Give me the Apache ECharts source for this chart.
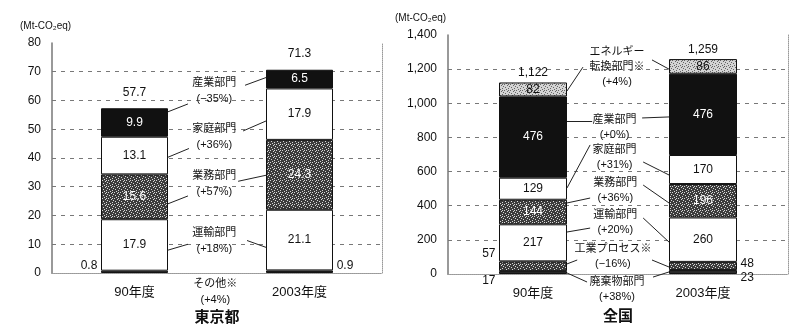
<!DOCTYPE html>
<html>
<head>
<meta charset="utf-8">
</head>
<body style="margin:0;background:#fff">
<div id="container" style="width:791px;height:330px"></div>
<script src="https://cdn.jsdelivr.net/npm/echarts@6/dist/echarts.min.js"></script>
<script>
// 東京都 (Mt-CO2eq)
var tokyoYears = ['90年度', '2003年度'];
var tokyoOther = [0.8, 0.9];
var tokyoTransport = [17.9, 21.1];
var tokyoBusiness = [15.6, 24.3];
var tokyoHome = [13.1, 17.9];
var tokyoIndustry = [9.9, 6.5];
var tokyoTotal = [57.7, 71.3];
var tokyoNotes = ['産業部門\n(−35%)', '家庭部門\n(+36%)', '業務部門\n(+57%)', '運輸部門\n(+18%)', 'その他※\n(+4%)'];

// 全国 (Mt-CO2eq)
var japanYears = ['90年度', '2003年度'];
var japanWaste = [17, 23];
var japanProcess = [57, 48];
var japanTransport = [217, 260];
var japanBusiness = [144, 196];
var japanHome = [129, 170];
var japanIndustry = [476, 476];
var japanEnergy = [82, 86];
var japanTotal = [1122, 1259];
var japanNotes = ['エネルギー\n転換部門※\n(+4%)', '産業部門\n(+0%)', '家庭部門\n(+31%)', '業務部門\n(+36%)', '運輸部門\n(+20%)', '工業プロセス※\n(−16%)', '廃棄物部門\n(+38%)'];

// annotation layout, on a hidden 0-10 axis (bars sit at 2.5 and 7.5)
var tokyoNotePos = [[4.92, 63.3], [4.92, 47.4], [4.92, 31.1], [4.92, 11.2], [4.95, -6.7]];
var japanNotePos = [[4.97, 1213], [4.9, 858], [4.9, 682], [4.92, 492], [4.92, 302], [4.85, 103], [4.97, -91]];
var tokyoLeaders = [
    [[3.5, 56.0], [4.12, 58.8]], [[5.85, 65.3], [6.49, 68.0]],
    [[3.5, 40.2], [4.15, 43.3]], [[5.79, 49.4], [6.49, 52.9]],
    [[3.5, 24.0], [4.12, 26.8]], [[5.64, 31.9], [6.49, 34.0]],
    [[3.5, 7.9], [4.12, 10.0]], [[5.91, 11.3], [6.49, 8.9]]
];
var japanLeaders = [
    [[3.5, 1072], [3.97, 1212]], [[6.0, 1254], [6.5, 1200]],
    [[3.5, 896], [4.24, 896]], [[5.71, 914], [6.5, 920]],
    [[3.5, 504], [4.18, 756]], [[5.74, 656], [6.5, 580]],
    [[3.5, 416], [4.18, 445]], [[5.74, 521], [6.5, 416]],
    [[3.5, 246], [4.18, 269]], [[5.74, 328], [6.5, 187]],
    [[3.5, 59], [3.8, 82]], [[6.0, 82], [6.5, 41]],
    [[3.5, 6], [4.09, -47]], [[6.03, -18], [6.5, 12]]
];

var FONT = '"Liberation Sans", "Noto Sans CJK JP", sans-serif';
var INK = '#111';

function stipple(bg, dot) {
    var c = document.createElement('canvas');
    c.width = 6; c.height = 6;
    var ctx = c.getContext('2d');
    ctx.fillStyle = bg;
    ctx.fillRect(0, 0, 6, 6);
    ctx.fillStyle = dot;
    [[0, 0], [3, 1], [1, 3], [4, 4], [2, 5], [5, 2], [4, 0]].forEach(function (p) {
        ctx.fillRect(p[0], p[1], 1, 1);
    });
    return {image: c, repeat: 'repeat'};
}
var darkDots = stipple('#3c3c3c', '#d8d8d8');
var lightDots = stipple('#d4d4d4', '#666');

function bars(name, grid, values, fill, labelColor, showLabel, width) {
    return {
        name: name, type: 'bar', stack: 'g' + grid,
        xAxisIndex: grid, yAxisIndex: grid * 2,
        barWidth: width, silent: true,
        data: values,
        itemStyle: {color: fill, borderColor: '#111', borderWidth: 1},
        label: {
            show: showLabel, position: 'inside', color: labelColor,
            fontSize: 12, fontFamily: FONT
        }
    };
}

// free text placed in data coordinates of the hidden value axis
function texts(grid, points, labels, label) {
    return {
        type: 'scatter', xAxisIndex: grid + 2, yAxisIndex: grid * 2,
        symbolSize: 1, clip: false, silent: true, z: 5,
        itemStyle: {color: 'rgba(0,0,0,0)', opacity: 1},
        data: points,
        label: Object.assign({
            show: true, color: INK, fontFamily: FONT, fontSize: 12,
            formatter: function (p) { return labels[p.dataIndex]; }
        }, label)
    };
}

function leaders(grid, segs) {
    return {
        type: 'lines', coordinateSystem: 'cartesian2d',
        xAxisIndex: grid + 2, yAxisIndex: grid * 2, clip: false, silent: true, z: 4,
        lineStyle: {color: '#222', width: 1, opacity: 1},
        data: segs.map(function (s) { return {coords: s}; })
    };
}

function xBottom(grid, years, name, gap) {
    return {
        type: 'category', gridIndex: grid, data: years, position: 'bottom',
        axisLine: {show: true, onZero: false, lineStyle: {color: '#888', type: 'dotted'}},
        axisTick: {show: false},
        splitLine: {show: false},
        axisLabel: {margin: 13, color: INK, fontSize: 13, fontFamily: FONT},
        name: name, nameLocation: 'middle', nameGap: gap,
        nameTextStyle: {fontSize: 15, fontWeight: 'bold', color: INK, fontFamily: FONT}
    };
}

function xTop(grid) {
    return {
        type: 'value', gridIndex: grid, min: 0, max: 10, position: 'top',
        axisLine: {show: true, lineStyle: {color: '#999', type: 'dotted'}},
        axisTick: {show: false}, axisLabel: {show: false}, splitLine: {show: false}
    };
}

function yLeft(grid, max, interval) {
    return {
        type: 'value', gridIndex: grid, min: 0, max: max, interval: interval, position: 'left',
        axisLine: {show: true, lineStyle: {color: '#777', width: 1.5}},
        axisTick: {show: false},
        axisLabel: {margin: 11, color: INK, fontSize: 12, fontFamily: FONT},
        splitLine: {show: true, showMinLine: false, showMaxLine: false,
            lineStyle: {color: '#555', type: [4, 5], width: 0.8}}
    };
}

function yRight(grid, max) {
    return {
        type: 'value', gridIndex: grid, min: 0, max: max, position: 'right',
        axisLine: {show: true, lineStyle: {color: '#999', type: 'dotted'}},
        axisTick: {show: false}, axisLabel: {show: false}, splitLine: {show: false}
    };
}

var series = [
    bars('その他', 0, tokyoOther, '#222', '#fff', false, 67),
    bars('運輸部門', 0, tokyoTransport, '#fff', INK, true, 67),
    bars('業務部門', 0, tokyoBusiness, darkDots, '#fff', true, 67),
    bars('家庭部門', 0, tokyoHome, '#fff', INK, true, 67),
    bars('産業部門', 0, tokyoIndustry, '#111', '#fff', true, 67),

    bars('廃棄物部門', 1, japanWaste, '#2a2a2a', '#fff', false, 68),
    bars('工業プロセス', 1, japanProcess, darkDots, '#fff', false, 68),
    bars('運輸部門', 1, japanTransport, '#fff', INK, true, 68),
    bars('業務部門', 1, japanBusiness, darkDots, '#fff', true, 68),
    bars('家庭部門', 1, japanHome, '#fff', INK, true, 68),
    bars('産業部門', 1, japanIndustry, '#111', '#fff', true, 68),
    bars('エネルギー転換部門', 1, japanEnergy, lightDots, INK, true, 68),

    // totals above the bars
    texts(0, [[2.5, tokyoTotal[0]], [7.5, tokyoTotal[1]]], tokyoTotal,
        {position: 'top', distance: 8}),
    texts(1, [[2.5, japanTotal[0]], [7.5, japanTotal[1]]],
        japanTotal.map(function (v) { return v.toLocaleString('en-US'); }),
        {position: 'top', distance: 3}),

    // small values beside the bars
    texts(0, [[1.48, 2.6]], [tokyoOther[0]], {position: 'left', distance: 3}),
    texts(0, [[8.52, 2.6]], [tokyoOther[1]], {position: 'right', distance: 3}),
    texts(1, [[1.5, 117], [1.5, -41]], [japanProcess[0], japanWaste[0]], {position: 'left', distance: 3}),
    texts(1, [[8.5, 59], [8.5, -23]], [japanProcess[1], japanWaste[1]], {position: 'right', distance: 3}),

    // callouts between the bars
    texts(0, tokyoNotePos, tokyoNotes, {position: 'inside', fontSize: 11, lineHeight: 16, align: 'center'}),
    texts(1, japanNotePos, japanNotes, {position: 'inside', fontSize: 11, lineHeight: 15, align: 'center'}),
    leaders(0, tokyoLeaders),
    leaders(1, japanLeaders)
];

var option = {
    backgroundColor: '#fff',
    animation: false,
    textStyle: {fontFamily: FONT},
    title: [
        {text: '(Mt-CO₂eq)', left: 15, top: 16, textStyle: {fontSize: 10, fontWeight: 'normal', color: INK, fontFamily: FONT}},
        {text: '(Mt-CO₂eq)', left: 390, top: 8, textStyle: {fontSize: 10, fontWeight: 'normal', color: INK, fontFamily: FONT}}
    ],
    grid: [
        {left: 52, top: 43, width: 330, height: 233},
        {left: 448, top: 35, width: 340, height: 239}
    ],
    xAxis: [
        xBottom(0, tokyoYears, '東京都', 37),
        xBottom(1, japanYears, '全国', 35),
        xTop(0),
        xTop(1)
    ],
    yAxis: [
        yLeft(0, 80, 10),
        yRight(0, 80),
        yLeft(1, 1400, 200),
        yRight(1, 1400)
    ],
    series: series
};

var myChart = echarts.init(document.getElementById('container'));
myChart.setOption(option);
</script>
</body>
</html>
